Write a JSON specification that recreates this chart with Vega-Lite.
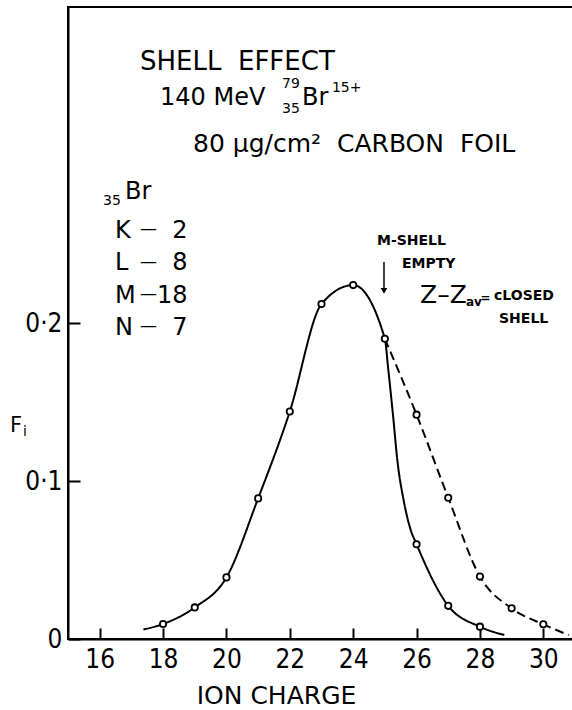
{
  "$schema": "https://vega.github.io/schema/vega-lite/v6.json",
  "width": 507,
  "height": 632,
  "autosize": {"type": "none"},
  "padding": {"left": 68, "top": 7, "right": 0, "bottom": 71},
  "background": "white",
  "view": {"stroke": "black", "strokeWidth": 2},
  "config": {
    "text": {"font": "DejaVu Sans", "color": "black", "align": "left", "baseline": "alphabetic"},
    "axis": {
      "grid": false,
      "domainColor": "black",
      "domainWidth": 2,
      "tickColor": "black",
      "tickWidth": 2,
      "labelColor": "black",
      "labelFont": "'DejaVu Sans Condensed', 'Liberation Sans', sans-serif",
      "labelFontSize": 26,
      "titleColor": "black",
      "titleFont": "DejaVu Sans",
      "titleFontWeight": "normal"
    }
  },
  "datasets": {
    "curves": [
      {"charge": 17.38, "Fi": 0.006, "curve": "observed"},
      {"charge": 18, "Fi": 0.0095, "curve": "observed"},
      {"charge": 19, "Fi": 0.02, "curve": "observed"},
      {"charge": 20, "Fi": 0.039, "curve": "observed"},
      {"charge": 21, "Fi": 0.089, "curve": "observed"},
      {"charge": 22, "Fi": 0.144, "curve": "observed"},
      {"charge": 23, "Fi": 0.212, "curve": "observed"},
      {"charge": 24, "Fi": 0.224, "curve": "observed"},
      {"charge": 25, "Fi": 0.19, "curve": "observed"},
      {"charge": 25.1, "Fi": 0.172, "curve": "observed"},
      {"charge": 25.25, "Fi": 0.143, "curve": "observed"},
      {"charge": 25.4, "Fi": 0.112, "curve": "observed"},
      {"charge": 25.6, "Fi": 0.087, "curve": "observed"},
      {"charge": 25.8, "Fi": 0.07, "curve": "observed"},
      {"charge": 26, "Fi": 0.06, "curve": "observed"},
      {"charge": 27, "Fi": 0.021, "curve": "observed"},
      {"charge": 28, "Fi": 0.0078, "curve": "observed"},
      {"charge": 28.77, "Fi": 0.0025, "curve": "observed"},
      {"charge": 25, "Fi": 0.19, "curve": "closed shell"},
      {"charge": 26, "Fi": 0.142, "curve": "closed shell"},
      {"charge": 27, "Fi": 0.0894, "curve": "closed shell"},
      {"charge": 28, "Fi": 0.0395, "curve": "closed shell"},
      {"charge": 29, "Fi": 0.0194, "curve": "closed shell"},
      {"charge": 30, "Fi": 0.0093, "curve": "closed shell"},
      {"charge": 30.8, "Fi": 0.0025, "curve": "closed shell"}
    ],
    "points": [
      {"charge": 18, "Fi": 0.0095},
      {"charge": 19, "Fi": 0.02},
      {"charge": 20, "Fi": 0.039},
      {"charge": 21, "Fi": 0.089},
      {"charge": 22, "Fi": 0.144},
      {"charge": 23, "Fi": 0.212},
      {"charge": 24, "Fi": 0.224},
      {"charge": 25, "Fi": 0.19},
      {"charge": 26, "Fi": 0.06},
      {"charge": 27, "Fi": 0.021},
      {"charge": 28, "Fi": 0.0078},
      {"charge": 26, "Fi": 0.142},
      {"charge": 27, "Fi": 0.0894},
      {"charge": 28, "Fi": 0.0395},
      {"charge": 29, "Fi": 0.0194},
      {"charge": 30, "Fi": 0.0093}
    ]
  },
  "data": {"values": [{}]},
  "layer": [
    {
      "data": {"name": "curves"},
      "mark": {"type": "line", "interpolate": "monotone", "color": "black", "strokeWidth": 2},
      "encoding": {
        "x": {
          "field": "charge", "type": "quantitative",
          "scale": {"domain": [15, 31], "nice": false, "zero": false},
          "axis": {
            "values": [16, 18, 20, 22, 24, 26, 28, 30],
            "format": "d",
            "tickSize": -11,
            "labelPadding": 18,
            "title": "ION CHARGE",
            "titleFontSize": 25,
            "titleX": 208,
            "titleY": 64,
            "titleAlign": "center",
            "titleBaseline": "alphabetic"
          }
        },
        "y": {
          "field": "Fi", "type": "quantitative",
          "scale": {"domain": [0, 0.4], "nice": false},
          "axis": {
            "values": [0, 0.1, 0.2],
            "tickSize": -12,
            "labelPadding": 18,
            "labelExpr": "datum.value === 0 ? '0' : replace(format(datum.value, '.1f'), '.', '·')",
            "title": null
          }
        },
        "strokeDash": {
          "field": "curve", "type": "nominal",
          "scale": {"domain": ["observed", "closed shell"], "range": [[1, 0], [9, 5]]},
          "legend": null
        }
      }
    },
    {
      "data": {"name": "points"},
      "mark": {"type": "point", "shape": "circle", "size": 40, "filled": false, "fill": "white", "fillOpacity": 1, "stroke": "black", "strokeWidth": 1.8, "opacity": 1},
      "encoding": {
        "x": {"field": "charge", "type": "quantitative"},
        "y": {"field": "Fi", "type": "quantitative"}
      }
    },
    {"mark": {"type": "text", "text": "SHELL\u00a0 EFFECT", "fontSize": 26}, "encoding": {"x": {"datum": 17.272}, "y": {"datum": 0.3601}}},
    {"mark": {"type": "text", "text": "140 MeV", "fontSize": 24}, "encoding": {"x": {"datum": 17.903}, "y": {"datum": 0.338}}},
    {"mark": {"type": "text", "text": "79", "fontSize": 14}, "encoding": {"x": {"datum": 21.753}, "y": {"datum": 0.3487}}},
    {"mark": {"type": "text", "text": "35", "fontSize": 14}, "encoding": {"x": {"datum": 21.753}, "y": {"datum": 0.3329}}},
    {"mark": {"type": "text", "text": "Br", "fontSize": 24}, "encoding": {"x": {"datum": 22.385}, "y": {"datum": 0.338}}},
    {"mark": {"type": "text", "text": "15+", "fontSize": 14}, "encoding": {"x": {"datum": 23.33}, "y": {"datum": 0.3462}}},
    {"mark": {"type": "text", "text": "80 μg/cm²\u00a0 CARBON\u00a0 FOIL", "fontSize": 25}, "encoding": {"x": {"datum": 18.945}, "y": {"datum": 0.3082}}},
    {"mark": {"type": "text", "text": "35", "fontSize": 14}, "encoding": {"x": {"datum": 16.105}, "y": {"datum": 0.2747}}},
    {"mark": {"type": "text", "text": "Br", "fontSize": 24}, "encoding": {"x": {"datum": 16.799}, "y": {"datum": 0.2785}}},
    {"mark": {"type": "text", "text": ["K", "L", "M", "N"], "fontSize": 24, "lineHeight": 32.3}, "encoding": {"x": {"datum": 16.483}, "y": {"datum": 0.2538}}},
    {"mark": {"type": "text", "text": ["—", "—", "—", "—"], "fontSize": 17, "lineHeight": 32.3}, "encoding": {"x": {"datum": 17.27}, "y": {"datum": 0.2562}}},
    {"mark": {"type": "text", "text": ["2", "8", "18", "7"], "fontSize": 24, "lineHeight": 32.3, "align": "right"}, "encoding": {"x": {"datum": 18.771}, "y": {"datum": 0.2538}}},
    {"mark": {"type": "text", "text": "F", "fontSize": 21}, "encoding": {"x": {"datum": 13.17}, "y": {"datum": 0.131}}},
    {"mark": {"type": "text", "text": "i", "fontSize": 14}, "encoding": {"x": {"datum": 13.58}, "y": {"datum": 0.1285}}},
    {"mark": {"type": "text", "text": "M-SHELL", "fontSize": 14, "fontWeight": "bold"}, "encoding": {"x": {"datum": 24.752}, "y": {"datum": 0.2494}}},
    {"mark": {"type": "text", "text": "EMPTY", "fontSize": 14, "fontWeight": "bold"}, "encoding": {"x": {"datum": 25.541}, "y": {"datum": 0.2348}}},
    {"mark": {"type": "rule", "color": "black", "strokeWidth": 1.5}, "encoding": {"x": {"datum": 24.972}, "y": {"datum": 0.2386}, "y2": {"datum": 0.2215}}},
    {"mark": {"type": "point", "shape": "triangle-down", "size": 45, "filled": true, "color": "black", "opacity": 1}, "encoding": {"x": {"datum": 24.972}, "y": {"datum": 0.2203}}},
    {"mark": {"type": "text", "text": "Z–Z", "fontSize": 25}, "encoding": {"x": {"datum": 26.109}, "y": {"datum": 0.2127}}},
    {"mark": {"type": "text", "text": "av", "fontSize": 12, "fontWeight": "bold"}, "encoding": {"x": {"datum": 27.56}, "y": {"datum": 0.2108}}},
    {"mark": {"type": "text", "text": "=", "fontSize": 12, "fontWeight": "bold"}, "encoding": {"x": {"datum": 28.02}, "y": {"datum": 0.2135}}},
    {"mark": {"type": "text", "text": "cLOSED", "fontSize": 14, "fontWeight": "bold"}, "encoding": {"x": {"datum": 28.444}, "y": {"datum": 0.2146}}},
    {"mark": {"type": "text", "text": "SHELL", "fontSize": 14, "fontWeight": "bold"}, "encoding": {"x": {"datum": 28.602}, "y": {"datum": 0.2}}}
  ]
}
